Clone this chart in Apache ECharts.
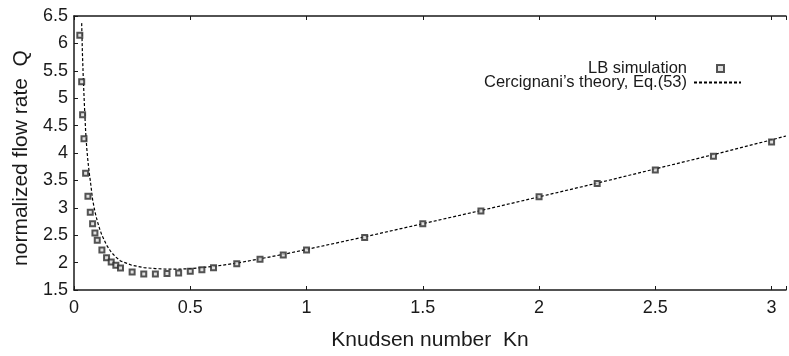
<!DOCTYPE html>
<html>
<head>
<meta charset="utf-8">
<script src="https://cdn.jsdelivr.net/npm/echarts@6/dist/echarts.min.js"></script>
<style>html,body{margin:0;padding:0;background:#fff}#c{width:789px;height:356px}</style>
</head>
<body>
<div id="c"></div>
<script>
// LB simulation data
var lbKn = [0.025, 0.033, 0.037, 0.043, 0.05, 0.06, 0.07, 0.08, 0.09, 0.1, 0.12, 0.14, 0.16, 0.18, 0.2, 0.25, 0.3, 0.35, 0.4, 0.45, 0.5, 0.55, 0.6, 0.7, 0.8, 0.9, 1.0, 1.25, 1.5, 1.75, 2.0, 2.25, 2.5, 2.75, 3.0];
var lbQ  = [6.15, 5.30, 4.70, 4.26, 3.63, 3.21, 2.92, 2.71, 2.54, 2.41, 2.23, 2.09, 2.01, 1.95, 1.90, 1.83, 1.79, 1.79, 1.80, 1.81, 1.84, 1.87, 1.906, 1.98, 2.06, 2.14, 2.23, 2.46, 2.71, 2.94, 3.20, 3.445, 3.69, 3.94, 4.20];
// Cercignani's theory curve
var thKn = [0.033, 0.036, 0.04, 0.045, 0.05, 0.055, 0.06, 0.066, 0.07, 0.08, 0.09, 0.1, 0.11, 0.12, 0.14, 0.16, 0.18, 0.2, 0.25, 0.3, 0.35, 0.4, 0.45, 0.5, 0.55, 0.6, 0.7, 0.8, 0.9, 1.0, 1.25, 1.5, 1.75, 2.0, 2.25, 2.5, 2.75, 3.0, 3.062];
var thQ  = [6.37, 5.85, 5.35, 4.85, 4.40, 4.08, 3.85, 3.62, 3.50, 3.15, 2.93, 2.76, 2.62, 2.50, 2.32, 2.19, 2.10, 2.03, 1.95, 1.91, 1.89, 1.88, 1.88, 1.89, 1.91, 1.93, 1.99, 2.07, 2.15, 2.24, 2.47, 2.71, 2.95, 3.20, 3.45, 3.71, 3.97, 4.24, 4.31];
var seriesNames = ['LB simulation', "Cercignani\u2019s theory, Eq.(53)"];
var xTitle = 'Knudsen number  Kn';
var yTitle = 'normalized flow rate  Q';

var lbData = lbKn.map(function (k, i) { return [k, lbQ[i]]; });
var thData = thKn.map(function (k, i) { return [k, thQ[i]]; });
var font = 'Liberation Sans, Arial, Helvetica, sans-serif';
var ink = '#1a1a1a';

var chart = echarts.init(document.getElementById('c'), null, {renderer: 'canvas'});
chart.setOption({
  animation: false,
  backgroundColor: '#fff',
  grid: {left: 74, right: 0, top: 16, bottom: 65, containLabel: false},
  legend: [{
    orient: 'vertical', right: 59, top: 55, align: 'right',
    itemWidth: 7, itemHeight: 7,
    textStyle: {fontFamily: font, fontSize: 16.5, color: ink, padding: [0, 25, 0, 0]},
    data: [{name: seriesNames[0], icon: 'rect'}]
  }, {
    orient: 'vertical', right: 42, top: 69, align: 'right',
    itemWidth: 47, itemHeight: 14,
    textStyle: {fontFamily: font, fontSize: 16.5, color: ink, padding: [0, 2, 0, 0]},
    data: [{name: seriesNames[1], itemStyle: {opacity: 0}}]
  }],
  xAxis: [{
    type: 'value', min: 0, max: 3.062, interval: 0.5,
    name: xTitle, nameLocation: 'middle', nameGap: 40,
    nameTextStyle: {fontFamily: font, fontSize: 21, color: ink},
    axisLine: {show: true, lineStyle: {color: ink, width: 1.5}},
    axisTick: {show: true, inside: true, length: 4, lineStyle: {color: ink}},
    axisLabel: {fontFamily: font, fontSize: 18, color: ink, margin: 9,
      formatter: function (v) { return Math.abs(v * 2 - Math.round(v * 2)) < 1e-6 ? String(v) : ''; }},
    splitLine: {show: false}
  }, {
    type: 'value', position: 'top', min: 0, max: 3.062, interval: 0.5,
    axisLine: {show: true, lineStyle: {color: ink, width: 1.5}},
    axisTick: {show: true, inside: true, length: 4, lineStyle: {color: ink}},
    axisLabel: {show: false}, splitLine: {show: false}
  }],
  yAxis: {
    type: 'value', min: 1.5, max: 6.5, interval: 0.5,
    name: yTitle, nameLocation: 'middle', nameGap: 42, nameRotate: 90,
    nameTextStyle: {fontFamily: font, fontSize: 21, color: ink, padding: [0, 10, 0, 0]},
    axisLine: {show: true, lineStyle: {color: ink, width: 1.5}},
    axisTick: {show: true, inside: true, length: 4, lineStyle: {color: ink}},
    axisLabel: {fontFamily: font, fontSize: 18, color: ink, margin: 6},
    splitLine: {show: false}
  },
  series: [{
    name: seriesNames[0], type: 'scatter', data: lbData,
    symbol: 'rect', symbolSize: 5,
    itemStyle: {color: '#d8d8d8', borderColor: '#2a2a2a', borderWidth: 2},
    z: 3
  }, {
    name: seriesNames[1], type: 'line', data: thData,
    symbol: 'none', showSymbol: false, smooth: false, clip: true,
    lineStyle: {color: '#000', width: 1.2, type: [3, 2]},
    itemStyle: {color: '#000'},
    z: 2
  }]
});
</script>
</body>
</html>
